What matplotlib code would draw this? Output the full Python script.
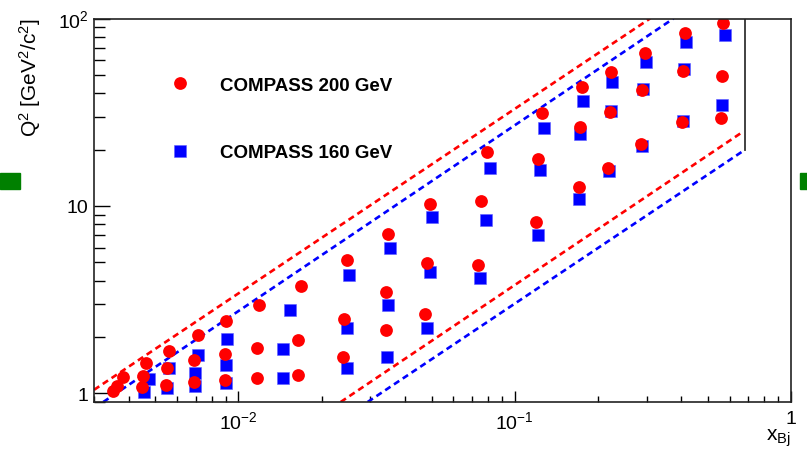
import matplotlib
matplotlib.use("Agg")
import matplotlib.pyplot as plt
from matplotlib.patches import Rectangle
from matplotlib.ticker import LogLocator, NullFormatter, FixedLocator

plt.rcParams['font.family'] = ['Liberation Sans', 'DejaVu Sans']
plt.rcParams['mathtext.fontset'] = 'custom'
plt.rcParams['mathtext.rm'] = 'Liberation Sans'
plt.rcParams['mathtext.it'] = 'Liberation Sans'

# COMPASS 200 GeV bins (x_Bj, Q^2)
red_x = [0.00352, 0.00364, 0.00381, 0.00462, 0.00452, 0.00446, 0.00560, 0.00549, 0.00546,
         0.00711, 0.00691, 0.00689, 0.00900, 0.00895, 0.00892, 0.01187, 0.01171, 0.01170,
         0.01680, 0.01648, 0.01643, 0.02464, 0.02409, 0.02383, 0.03475, 0.03428, 0.03408,
         0.04916, 0.04795, 0.04727, 0.07969, 0.07557, 0.07390, 0.1257, 0.1211, 0.1195,
         0.1752, 0.1718, 0.1703, 0.2237, 0.2218, 0.2182, 0.2951, 0.2895, 0.2871,
         0.4118, 0.4050, 0.4030, 0.5696, 0.5649, 0.5588]
red_q2 = [1.03, 1.10, 1.23, 1.45, 1.24, 1.08, 1.69, 1.36, 1.11,
          2.04, 1.50, 1.15, 2.43, 1.62, 1.18, 2.95, 1.75, 1.21,
          3.74, 1.92, 1.26, 5.14, 2.48, 1.57, 7.08, 3.49, 2.19,
          10.3, 4.98, 2.66, 19.5, 10.6, 4.87, 31.2, 17.8, 8.18,
          43.1, 26.5, 12.7, 51.8, 31.6, 16.0, 65.4, 41.6, 21.4,
          83.5, 52.5, 28.0, 94.1, 49.5, 29.4]

# COMPASS 160 GeV bins
blue_x = [0.00473, 0.00455, 0.00560, 0.00549, 0.00714, 0.00699, 0.00699,
          0.00910, 0.00905, 0.00900, 0.01533, 0.01452, 0.01452,
          0.02505, 0.02478, 0.02478, 0.03524, 0.03475, 0.03457,
          0.05028, 0.04929, 0.04823, 0.08122, 0.07882, 0.07516,
          0.1281, 0.1239, 0.1211, 0.1762, 0.1728, 0.1703,
          0.2256, 0.2237, 0.2200, 0.2986, 0.2910, 0.2895,
          0.4176, 0.4097, 0.4050, 0.5793, 0.5649]
blue_q2 = [1.19, 1.02, 1.36, 1.07, 1.60, 1.29, 1.09,
           1.94, 1.42, 1.13, 2.77, 1.72, 1.21,
           4.26, 2.24, 1.36, 5.95, 2.96, 1.57,
           8.74, 4.44, 2.22, 15.9, 8.42, 4.14,
           26.2, 15.5, 7.01, 36.5, 24.2, 10.9,
           45.7, 32.1, 15.4, 58.3, 42.1, 21.0,
           75.1, 54.0, 28.3, 81.2, 34.6]

# kinematic limits (end points)
red_up_x, red_up_q2 = [0.003, 0.309], [1.045, 100]
blue_up_x, blue_up_q2 = [0.00324, 0.3757], [0.9, 100]
red_lo_x, red_lo_q2 = [0.02344, 0.6711], [0.9, 24.93]
blue_lo_x, blue_lo_q2 = [0.02935, 0.6808], [0.9, 19.93]
cut_x, cut_q2 = [0.681, 0.681], [19.93, 100]

fig = plt.figure(figsize=(8.07, 4.52), dpi=100)
ax = fig.add_axes([94/807, 1-403/452, 697/807, 383.5/452])

dash = (0, (2.4, 1.6))
ax.plot(red_up_x, red_up_q2, color='#ff0000', lw=1.9, linestyle=dash)
ax.plot(blue_up_x, blue_up_q2, color='#0000ff', lw=1.9, linestyle=dash)
ax.plot(red_lo_x, red_lo_q2, color='#ff0000', lw=1.9, linestyle=dash)
ax.plot(blue_lo_x, blue_lo_q2, color='#0000ff', lw=1.9, linestyle=dash)
ax.plot(cut_x, cut_q2, color='#333333', lw=1.3)

hb, = ax.plot(blue_x, blue_q2, 's', color='#0000ff', ms=8.6, mew=0.4, mec='#6060ff',
              label='COMPASS 160 GeV')
hr, = ax.plot(red_x, red_q2, 'o', color='#ff0000', ms=9.2, mew=0,
              label='COMPASS 200 GeV')

ax.set_xscale('log')
ax.set_yscale('log')
ax.set_xlim(0.003, 1)
ax.set_ylim(0.9, 100)

ax.xaxis.set_major_locator(FixedLocator([0.01, 0.1, 1]))
ax.xaxis.set_minor_locator(LogLocator(base=10, subs=range(2, 10)))
ax.xaxis.set_minor_formatter(NullFormatter())
ax.set_xticklabels(['$10^{-2}$', '$10^{-1}$', '1'])
ax.yaxis.set_major_locator(FixedLocator([1, 10, 100]))
ax.yaxis.set_minor_locator(LogLocator(base=10, subs=range(2, 10)))
ax.yaxis.set_minor_formatter(NullFormatter())
ax.set_yticklabels(['1', '10', '$10^{2}$'])

ax.tick_params(axis='x', which='major', direction='in', length=8, width=1, labelsize=14, pad=6,
               top=False)
ax.tick_params(axis='x', which='minor', direction='in', length=4.3, width=1, top=False)
ax.tick_params(axis='y', which='major', direction='in', length=11.5, width=1, labelsize=14, pad=4,
               right=False)
ax.tick_params(axis='y', which='minor', direction='in', length=7.9, width=1, right=False)
for s in ax.spines.values():
    s.set_linewidth(1.2)
    s.set_color('#222222')

leg = ax.legend(handles=[hr, hb], loc='upper left', bbox_to_anchor=(0.1099, 0.8485),
                frameon=False, borderpad=0, borderaxespad=0, handlelength=1.0,
                handletextpad=1.63, labelspacing=2.68, prop={'weight': 'bold', 'size': 13.5})

fig.text(30/807, 1-18/452, 'Q$^2$ [GeV$^2$/c$^2$]', rotation=90, ha='center', va='top', fontsize=15)
fig.text(791/807, 1-449/452, 'x$_{\\mathregular{Bj}}$', ha='right', va='bottom', fontsize=15)

# green marks at the picture edges
fig.add_artist(Rectangle((0, 1-190/452), 20/807, 16/452, transform=fig.transFigure,
                         color='#008000', clip_on=False))
fig.add_artist(Rectangle((800/807, 1-190/452), 7/807, 16/452, transform=fig.transFigure,
                         color='#008000', clip_on=False))

fig.savefig('out.png', dpi=100)
